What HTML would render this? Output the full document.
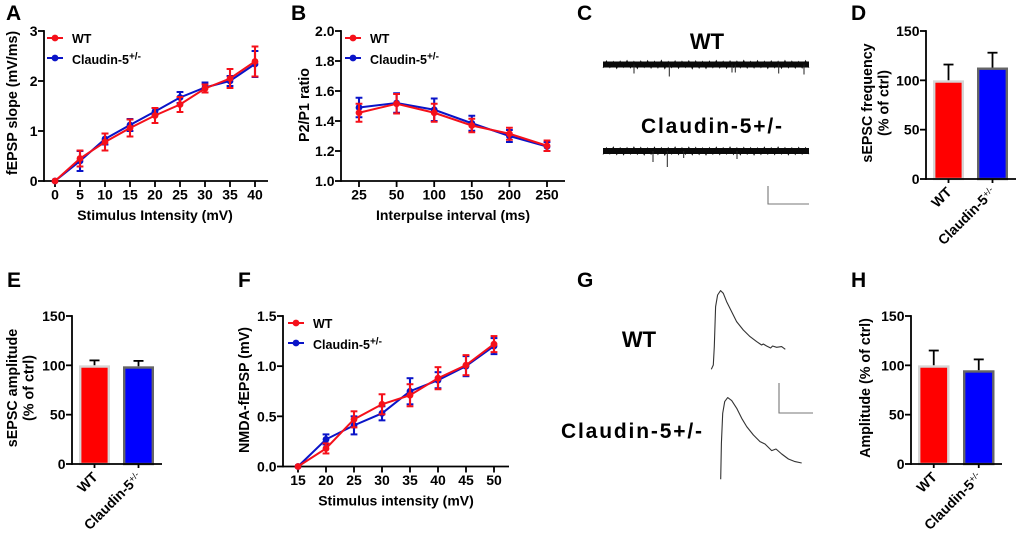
<!DOCTYPE html>
<html>
<head>
<meta charset="utf-8">
<style>
html,body{margin:0;padding:0;background:#fff;}
svg{display:block;filter:blur(0.3px);}
text{font-family:"Liberation Sans",sans-serif;font-weight:bold;fill:#000;}
</style>
</head>
<body>
<svg id="fig" xmlns="http://www.w3.org/2000/svg" width="1020" height="538" viewBox="0 0 1020 538"></svg>
<script>
// Panel A
const aCategories = [0,5,10,15,20,25,30,35,40];
const aWT = [0,0.45,0.78,1.06,1.31,1.53,1.85,2.05,2.39];
const aWTErr = [0,0.16,0.17,0.17,0.15,0.15,0.08,0.19,0.30];
const aKO = [0,0.40,0.84,1.12,1.39,1.67,1.87,2.00,2.34];
const aKOErr = [0,0.20,0.11,0.12,0.07,0.11,0.10,0.10,0.26];
const aYTicks = ['0','1','2','3'];
// Panel B
const bCategories = ['25','50','100','150','200','250'];
const bWT = [1.455,1.515,1.455,1.37,1.315,1.235];
const bWTErr = [0.06,0.065,0.06,0.045,0.04,0.035];
const bKO = [1.49,1.52,1.475,1.385,1.30,1.23];
const bKOErr = [0.065,0.065,0.075,0.05,0.04,0.03];
const bYTicks = ['1.0','1.2','1.4','1.6','1.8','2.0'];
// Panel F
const fCategories = ['15','20','25','30','35','40','45','50'];
const fWT = [0,0.18,0.47,0.62,0.71,0.88,1.01,1.22];
const fWTErr = [0,0.05,0.08,0.10,0.11,0.11,0.10,0.08];
const fKO = [0,0.27,0.41,0.53,0.75,0.86,1.00,1.20];
const fKOErr = [0,0.05,0.09,0.07,0.13,0.08,0.10,0.08];
const fYTicks = ['0.0','0.5','1.0','1.5'];
// Bar panels
const barYTicks = ['0','50','100','150'];
const dValues = [100,113];
const dErr = [16,15];
const eValues = [100,99];
const eErr = [5,5.5];
const hValues = [100,95];
const hErr = [15,11];
// Recordings: sEPSC baseline noise and events
const cWTNoise = [3.4,-3.6,3.1,-3,3.9,-3.4,2.9,-4,3.3,-3.1,4,-3.5,3,-3.8,3.6,-3.2,3.5,-4.1,4.1,-3,3.2,-3.6,3.8,-3.3,3,-3.7,4.2,-3.5,3.6,-3.1,3.9,-3.3,3.2,-3.9,3.5,-3.2,3.8,-3.6,2.9,-3.4,3.3,-4,3.6,-3.1,3.5,-3.8,3.1,-3.3,3.9,-3.6,3.2,-3.2,3.8,-3.9,3.3,-3.4,3.6,-3,3.5,-3.8,3.2];
const cWTEventTimes = [31,66.3,129,132.3,175.7,201];
const cWTEventAmps = [9,12,8,8,9,10];
const cKONoise = [3.5,-3.3,3,-3.9,3.6,-3.2,3.8,-3.4,3.1,-4,3.3,-3.6,3.9,-3.1,3.2,-3.8,3.5,-3.3,4.2,-3.4,3.1,-3.9,3.6,-3.2,3.3,-3.8,3.8,-3.6,3.5,-3.1,4,-3.4,3.2,-3.8,3.6,-3.3,3.1,-3.9,3.5,-3.2,3.8,-3.6,3.3,-3.4,3.9,-3.1,3.5,-3.8,3.2,-3.3,3.6,-3.9,3.1,-3.4,3.8,-3.2,3.5,-3.6,3.3,-3.4,3.2];
const cKOEventTimes = [50,64.3,80.7,134];
const cKOEventAmps = [11,16,7,8];
// Recordings: evoked potentials
const gWTTime = [0,2,3,4.3,6.3,9.3,12,15.3,20.3,25.3,32,38.7,45.3,50.3,52,55.3,59.3,61.3,65.3,70.3,74];
const gWTAmp = [0,4.3,22.7,62.7,74.3,78.7,76,67.7,57.7,47.7,39.3,32.7,27.7,24.3,25.3,23.3,21.3,23.3,22,22.7,20];
const gKOTime = [0,0.7,2,4,7,11,16,21,26,32.7,39.3,44.3,51,55.3,61,67.7,74.3,81];
const gKOAmp = [0,36,66,77.7,81.7,78.7,71,61,52.7,44.3,37.7,35.3,28.7,30.3,25.3,20.3,17.7,16.3];

const svg = document.getElementById('fig');
const NS = 'http://www.w3.org/2000/svg';
const RED = '#f5101a', BLUE = '#0a14c8', INK = '#000';

function el(tag, attrs, parent, name, interact) {
  const e = document.createElementNS(NS, tag);
  for (const k in attrs) e.setAttribute(k, attrs[k]);
  
  
  (parent || svg).appendChild(e);
  return e;
}
function line(x1, y1, x2, y2, stroke, w, parent, name) {
  return el('line', {x1, y1, x2, y2, stroke, 'stroke-width': w}, parent, name);
}
function text(str, x, y, size, anchor, parent, name, extra) {
  const t = el('text', Object.assign({x, y, 'font-size': size, 'text-anchor': anchor || 'start'}, extra || {}), parent, name);
  t.textContent = str;
  return t;
}
function yAxis(g, cfg) {
  line(cfg.x, cfg.top - 0.9, cfg.x, cfg.bottom + 0.9, INK, 1.8, g, 'y-axis-line');
  cfg.labels.forEach(function (lab) {
    const y = cfg.scale(parseFloat(lab));
    line(cfg.x - 6, y, cfg.x, y, INK, 1.8, g, 'y-tick');
    text(lab, cfg.x - 6.5, y + 5, 14, 'end', g, 'y-tick-label');
  });
}
function ylabel(lines, x, cy, g) {
  lines.forEach(function (s, i) {
    text(s, 0, 0, 14.3, 'middle', g, 'y-axis-title', {transform: 'translate(' + (x + i * 16.5) + ',' + cy + ') rotate(-90)'});
  });
}
function seriesDraw(g, xs, vals, errs, yScale, color, key) {
  const pts = vals.map(function (v, i) { return xs[i] + ',' + yScale(v); }).join(' ');
  el('polyline', {points: pts, fill: 'none', stroke: color, 'stroke-width': 2}, g, key + '-line');
  vals.forEach(function (v, i) {
    const x = xs[i], hi = yScale(v + errs[i]), lo = yScale(v - errs[i]);
    if (errs[i] > 0) {
      line(x, hi, x, lo, color, 2.1, g, key + '-error-bar');
      line(x - 3.4, hi, x + 3.4, hi, color, 2, g, key + '-error-cap');
      line(x - 3.4, lo, x + 3.4, lo, color, 2, g, key + '-error-cap');
    }
    el('circle', {cx: x, cy: yScale(v), r: 3.4, fill: color}, g, key + '-point');
  });
}
function legend(g, x, textX, y1, y2) {
  line(x, y1, x + 16, y1, RED, 2, g, 'legend-line-wt');
  el('circle', {cx: x + 8, cy: y1, r: 3.4, fill: RED}, g, 'legend-marker-wt');
  text('WT', textX, y1 + 5, 12.5, 'start', g, 'legend-label-wt');
  line(x, y2, x + 16, y2, BLUE, 2, g, 'legend-line-claudin');
  el('circle', {cx: x + 8, cy: y2, r: 3.4, fill: BLUE}, g, 'legend-marker-claudin');
  const t = text('Claudin-5', textX, y2 + 6, 12.5, 'start', g, 'legend-label-claudin');
  const s = document.createElementNS(NS, 'tspan');
  s.setAttribute('dy', '-4.5');
  s.setAttribute('font-size', '10');
  s.textContent = '+/-';
  t.appendChild(s);
}
function linePanel(cfg) {
  const g = el('g', {}, svg, cfg.name);
  const scale = function (v) { return cfg.y0 + (v - cfg.vMin) / (cfg.vMax - cfg.vMin) * (cfg.y1 - cfg.y0); };
  const n = cfg.cats.length;
  const xs = cfg.cats.map(function (c, i) {
    return cfg.xFirst + i * (cfg.xLast - cfg.xFirst) / (n - 1);
  });
  yAxis(g, {x: cfg.axisX, top: cfg.y1, bottom: cfg.y0, labels: cfg.yTicks, scale: scale});
  line(cfg.axisX, cfg.y0, cfg.axisEnd, cfg.y0, INK, 1.8, g, 'x-axis-line');
  cfg.cats.forEach(function (c, i) {
    line(xs[i], cfg.y0, xs[i], cfg.y0 + 6, INK, 1.8, g, 'x-tick');
    text(String(c), xs[i], cfg.y0 + 18.5, 14, 'middle', g, 'x-tick-label');
  });
  text(cfg.xTitle, cfg.xTitleX, cfg.y0 + 39, 14, 'middle', g, 'x-axis-title');
  ylabel([cfg.yTitle], cfg.yTitleX, cfg.yTitleCy, g);
  seriesDraw(g, xs, cfg.ko, cfg.koErr, scale, BLUE, 'claudin');
  seriesDraw(g, xs, cfg.wt, cfg.wtErr, scale, RED, 'wt');
  legend(g, cfg.legX, cfg.legTextX, cfg.legY1, cfg.legY2);
}
function barPanel(cfg) {
  const g = el('g', {}, svg, cfg.name);
  const scale = function (v) { return cfg.y0 + v / 150 * (cfg.y1 - cfg.y0); };
  const fills = ['#ff0000', '#0000ff'];
  const borders = ['#d6d6d6', '#666666'];
  const names = ['wt', 'claudin'];
  cfg.vals.forEach(function (v, i) {
    const x = cfg.barX[i], w = cfg.barW, cx = x + w / 2, top = scale(v), errTop = scale(v + cfg.errs[i]);
    line(cx, top, cx, errTop, INK, 1.8, g, 'error-bar-' + names[i]);
    line(cx - 5, errTop, cx + 5, errTop, INK, 1.8, g, 'error-cap-' + names[i]);
    el('rect', {x: x + 1.2, y: top + 1.2, width: w - 2.4, height: cfg.y0 - top - 1.2, fill: fills[i], stroke: borders[i], 'stroke-width': 2.4}, g, 'bar-' + names[i]);
  });
  yAxis(g, {x: cfg.axisX, top: cfg.y1, bottom: cfg.y0, labels: barYTicks, scale: scale});
  line(cfg.axisX, cfg.y0, cfg.axisEnd, cfg.y0, INK, 1.8, g, 'x-axis-line');
  cfg.barX.forEach(function (x, i) {
    const cx = x + cfg.barW / 2;
    line(cx, cfg.y0, cx, cfg.y0 + 4, INK, 1.8, g, 'x-tick');
    const t = text(i === 0 ? 'WT' : 'Claudin-5', 0, 0, 14, 'end', g, 'x-tick-label', {transform: 'translate(' + (cx + 4) + ',' + (cfg.y0 + 14) + ') rotate(-45)'});
    if (i === 1) {
      const s = document.createElementNS(NS, 'tspan');
      s.setAttribute('dy', '-4');
      s.setAttribute('font-size', '9');
      s.setAttribute('font-weight', 'normal');
      s.textContent = '+/-';
      t.appendChild(s);
    }
  });
  ylabel(cfg.yTitle, cfg.yTitleX, cfg.yTitleCy, g);
}
function sepscTrace(noise, times, amps, x0, width, cy, name) {
  const g = el('g', {}, svg, name);
  const tMax = 206;
  const tx = function (t) { return x0 + t / tMax * width; };
  line(x0, cy, x0 + width, cy, '#0a0a0a', 6, g, 'baseline-band');
  const pts = noise.map(function (n, i) { return tx(i * tMax / (noise.length - 1)) + ',' + (cy + n); }).join(' ');
  el('polyline', {points: pts, fill: 'none', stroke: '#0a0a0a', 'stroke-width': 0.8}, g, 'baseline-noise');
  times.forEach(function (t, i) {
    line(tx(t), cy, tx(t), cy + amps[i], '#222', 1, g, 'spontaneous-event');
  });
}
function evokedTrace(times, amps, x0, y0, name) {
  const pts = times.map(function (t, i) { return (x0 + t) + ',' + (y0 - amps[i]); }).join(' ');
  el('polyline', {points: pts, fill: 'none', stroke: '#333', 'stroke-width': 1.1, 'stroke-linejoin': 'round'}, svg, name);
}
function scaleBar(x, yTop, yBot, xEnd, name) {
  el('polyline', {points: x + ',' + yTop + ' ' + x + ',' + yBot + ' ' + xEnd + ',' + yBot, fill: 'none', stroke: '#777', 'stroke-width': 1.1}, svg, name);
}

linePanel({name:'panel-a-fepsp-slope', cats:aCategories, yTicks:aYTicks, wt:aWT, wtErr:aWTErr, ko:aKO, koErr:aKOErr,
  vMin:0, vMax:3, y0:181, y1:31, axisX:44, axisEnd:268, xFirst:55, xLast:255,
  xTitle:'Stimulus Intensity (mV)', xTitleX:155, yTitle:'fEPSP slope (mV/ms)', yTitleX:17, yTitleCy:103,
  legX:47, legTextX:72, legY1:38, legY2:58});
linePanel({name:'panel-b-paired-pulse', cats:bCategories, yTicks:bYTicks, wt:bWT, wtErr:bWTErr, ko:bKO, koErr:bKOErr,
  vMin:1, vMax:2, y0:181, y1:31, axisX:341, axisEnd:565, xFirst:359, xLast:547,
  xTitle:'Interpulse interval (ms)', xTitleX:453, yTitle:'P2/P1 ratio', yTitleX:309, yTitleCy:105,
  legX:345, legTextX:370, legY1:38, legY2:58});
linePanel({name:'panel-f-nmda-fepsp', cats:fCategories, yTicks:fYTicks, wt:fWT, wtErr:fWTErr, ko:fKO, koErr:fKOErr,
  vMin:0, vMax:1.5, y0:466.5, y1:316, axisX:283, axisEnd:509, xFirst:298, xLast:494,
  xTitle:'Stimulus intensity (mV)', xTitleX:396, yTitle:'NMDA-fEPSP (mV)', yTitleX:249, yTitleCy:390,
  legX:288, legTextX:313, legY1:323, legY2:343});

barPanel({name:'panel-d-sepsc-frequency', vals:dValues, errs:dErr, y0:179, y1:31, axisX:926, axisEnd:1016, barX:[933,977], barW:31,
  yTitle:['sEPSC frequency','(% of ctrl)'], yTitleX:872, yTitleCy:103});
barPanel({name:'panel-e-sepsc-amplitude', vals:eValues, errs:eErr, y0:464, y1:316, axisX:72, axisEnd:162, barX:[79,123], barW:31,
  yTitle:['sEPSC amplitude','(% of ctrl)'], yTitleX:17, yTitleCy:388});
barPanel({name:'panel-h-amplitude', vals:hValues, errs:hErr, y0:464, y1:316, axisX:911, axisEnd:1002, barX:[918,963], barW:31.5,
  yTitle:['Amplitude (% of ctrl)'], yTitleX:870, yTitleCy:388});

sepscTrace(cWTNoise, cWTEventTimes, cWTEventAmps, 603, 206, 64.5, 'trace-sepsc-wt');
sepscTrace(cKONoise, cKOEventTimes, cKOEventAmps, 603, 206, 151, 'trace-sepsc-claudin');
scaleBar(768, 186, 204, 809, 'scale-bar-c');
evokedTrace(gWTTime, gWTAmp, 711.3, 369.3, 'trace-evoked-wt');
evokedTrace(gKOTime, gKOAmp, 720.7, 479.3, 'trace-evoked-claudin');
scaleBar(779, 383, 413, 813, 'scale-bar-g');

const lblFit = {textLength: '141', lengthAdjust: 'spacing'};
text('WT', 707, 49, 22, 'middle', svg, 'panel-c-label-wt');
text('Claudin-5+/-', 641, 133, 21, 'start', svg, 'panel-c-label-claudin', lblFit);
text('WT', 639, 347, 22, 'middle', svg, 'panel-g-label-wt');
text('Claudin-5+/-', 561, 438, 21, 'start', svg, 'panel-g-label-claudin', lblFit);

const panelLetters = ['A','B','C','D','E','F','G','H'];
const letterX = [6,291,577,851,7,238,577,851];
const letterY = [20,20,20,20,287,287,287,287];
panelLetters.forEach(function (l, i) {
  text(l, letterX[i], letterY[i], 21, 'start', svg, 'panel-letter-' + l.toLowerCase());
});
</script>
</body>
</html>
